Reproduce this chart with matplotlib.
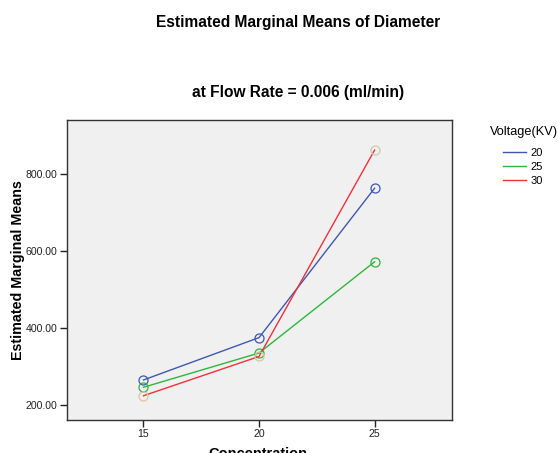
import matplotlib
matplotlib.use("Agg")
import matplotlib.pyplot as plt

plt.rcParams['font.family'] = ['Liberation Sans', 'DejaVu Sans']

concentration = [15, 20, 25]
voltages = ['20', '25', '30']
means_20 = [265, 375, 763]
means_25 = [246, 335, 572]
means_30 = [224, 326, 862]
line_colors = ['#3e58b0', '#2fb53c', '#f0303a']
marker_colors = ['#3e58b0', '#2fb53c', '#d8c7a0']
yticks = [200, 400, 600, 800]

fig = plt.figure(figsize=(5.6, 4.53), dpi=100)
ax = fig.add_axes([66.5/560, 1-419.5/453, (452-66.5)/560, (419.5-120.5)/453])
ax.set_facecolor('#f0f0f0')

for vals, lc, mc, lab in zip([means_20, means_25, means_30], line_colors, marker_colors, voltages):
    ax.plot(concentration, vals, color=lc, lw=1.0, label=lab)
    ax.plot(concentration, vals, linestyle='none', marker='o', ms=6.5, mfc='none', mec=mc, mew=0.9)

ax.set_xlim(11.67, 28.35)
ax.set_ylim(162.3, 939)
ax.set_xticks(concentration)
ax.set_xticklabels([str(c) for c in concentration])
ax.set_yticks(yticks)
ax.set_yticklabels([f"{v:.2f}" for v in yticks])
ax.tick_params(axis='both', labelsize=7.6, colors='#222222', length=5, width=1, direction='out', pad=1.5)
for s in ax.spines.values():
    s.set_color('#333333')
    s.set_linewidth(1.0)

ax.set_ylabel('Estimated Marginal Means', fontsize=10.3, fontweight='bold')
ax.yaxis.set_label_coords(-41/385.5, 0.5)

fig.text(258/560, 1-447/453, 'Concentration', ha='center', va='top',
         fontsize=10.5, fontweight='bold')

fig.text(298/560, 1-22/453, 'Estimated Marginal Means of Diameter', ha='center', va='center',
         fontsize=11.2, fontweight='bold')
fig.text(298/560, 1-92/453, 'at Flow Rate = 0.006 (ml/min)', ha='center', va='center',
         fontsize=11.2, fontweight='bold')

fig.text(524/560, 1-132/453, 'Voltage(KV)', ha='center', va='center', fontsize=9.2)
leg = fig.legend(*ax.get_legend_handles_labels(), loc='upper center',
                 bbox_to_anchor=(523/560, 1-142/453), frameon=False, fontsize=8,
                 handlelength=2.0, handletextpad=0.4, labelspacing=0.36,
                 borderpad=0)

fig.savefig('out.png', dpi=100)
